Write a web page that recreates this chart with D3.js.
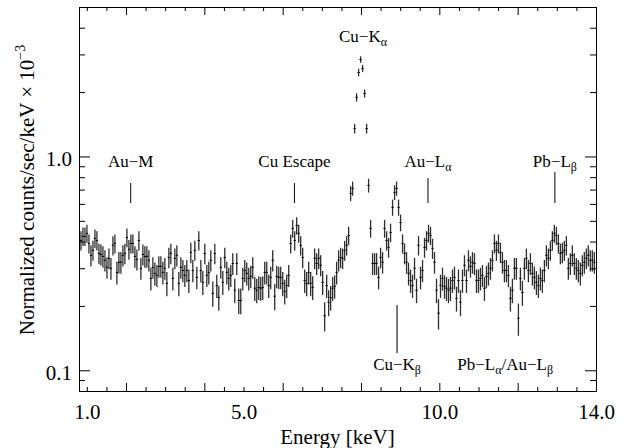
<!DOCTYPE html>
<html>
<head>
<meta charset="utf-8">
<script src="https://cdn.jsdelivr.net/npm/d3@7.9.0/dist/d3.min.js"></script>
<style>
  html, body { margin: 0; padding: 0; background: #fff; }
  svg { display: block; }
</style>
</head>
<body>
<svg id="spectrum-chart" width="628" height="448"></svg>
<script>
// bin centres (keV)
const energy = [
  0.850,0.901,0.952,1.003,1.054,1.105,1.156,1.207,1.258,1.309,
  1.360,1.411,1.462,1.513,1.564,1.615,1.666,1.717,1.768,1.819,
  1.870,1.921,1.972,2.023,2.074,2.125,2.176,2.227,2.278,2.329,
  2.380,2.431,2.482,2.533,2.584,2.635,2.686,2.737,2.788,2.839,
  2.890,2.941,2.992,3.043,3.094,3.145,3.196,3.247,3.298,3.349,
  3.400,3.451,3.502,3.553,3.604,3.655,3.706,3.757,3.808,3.859,
  3.910,3.961,4.012,4.063,4.114,4.165,4.216,4.267,4.318,4.369,
  4.420,4.471,4.522,4.573,4.624,4.675,4.726,4.777,4.828,4.879,
  4.930,4.981,5.032,5.083,5.134,5.185,5.236,5.287,5.338,5.389,
  5.440,5.491,5.542,5.593,5.644,5.695,5.746,5.797,5.848,5.899,
  5.950,6.001,6.052,6.103,6.154,6.205,6.256,6.307,6.358,6.409,
  6.460,6.511,6.562,6.613,6.664,6.715,6.766,6.817,6.868,6.919,
  6.970,7.021,7.072,7.123,7.174,7.225,7.276,7.327,7.378,7.429,
  7.480,7.531,7.582,7.633,7.684,7.735,7.786,7.837,7.888,7.939,
  7.990,8.041,8.092,8.143,8.194,8.245,8.296,8.347,8.398,8.449,
  8.500,8.551,8.602,8.653,8.704,8.755,8.806,8.857,8.908,8.959,
  9.010,9.061,9.112,9.163,9.214,9.265,9.316,9.367,9.418,9.469,
  9.520,9.571,9.622,9.673,9.724,9.775,9.826,9.877,9.928,9.979,
  10.030,10.081,10.132,10.183,10.234,10.285,10.336,10.387,10.438,10.489,
  10.540,10.591,10.642,10.693,10.744,10.795,10.846,10.897,10.948,10.999,
  11.050,11.101,11.152,11.203,11.254,11.305,11.356,11.407,11.458,11.509,
  11.560,11.611,11.662,11.713,11.764,11.815,11.866,11.917,11.968,12.019,
  12.070,12.121,12.172,12.223,12.274,12.325,12.376,12.427,12.478,12.529,
  12.580,12.631,12.682,12.733,12.784,12.835,12.886,12.937,12.988,13.039,
  13.090,13.141,13.192,13.243,13.294,13.345,13.396,13.447,13.498,13.549,
  13.600,13.651,13.702,13.753,13.804,13.855,13.906,13.957
];

// normalized counts/sec/keV x 1e-3
const rate = [
  0.405,0.423,0.423,0.437,0.392,0.345,0.364,0.414,0.405,0.352,
  0.348,0.341,0.327,0.303,0.334,0.300,0.384,0.392,0.287,0.320,
  0.320,0.345,0.352,0.418,0.368,0.392,0.392,0.341,0.330,0.405,
  0.300,0.348,0.341,0.341,0.327,0.269,0.303,0.284,0.278,0.306,
  0.306,0.287,0.300,0.255,0.337,0.352,0.269,0.334,0.345,0.255,
  0.303,0.293,0.278,0.293,0.263,0.356,0.293,0.364,0.272,0.405,
  0.293,0.258,0.352,0.278,0.287,0.327,0.229,0.352,0.249,0.219,
  0.303,0.258,0.337,0.287,0.269,0.278,0.316,0.237,0.316,0.212,
  0.212,0.269,0.293,0.284,0.269,0.275,0.303,0.242,0.237,0.244,
  0.242,0.244,0.287,0.287,0.249,0.272,0.327,0.222,0.275,0.272,
  0.272,0.255,0.234,0.249,0.278,0.392,0.461,0.405,0.476,0.437,
  0.384,0.337,0.263,0.255,0.287,0.255,0.244,0.334,0.316,0.334,
  0.310,0.258,0.180,0.249,0.208,0.219,0.242,0.247,0.287,0.327,
  0.337,0.334,0.364,0.384,0.427,0.672,0.709,1.35,1.89,2.47,
  2.84,2.58,1.97,1.35,0.732,0.461,0.316,0.316,0.316,0.272,
  0.337,0.320,0.461,0.405,0.376,0.441,0.578,0.679,0.709,0.578,
  0.491,0.392,0.352,0.320,0.284,0.263,0.249,0.300,0.237,0.384,
  0.272,0.293,0.376,0.405,0.437,0.427,0.372,0.320,0.237,0.185,
  0.249,0.269,0.247,0.242,0.237,0.242,0.263,0.272,0.217,0.263,
  0.208,0.263,0.310,0.263,0.327,0.306,0.320,0.316,0.263,0.263,
  0.269,0.278,0.242,0.275,0.284,0.300,0.327,0.392,0.364,0.392,
  0.356,0.320,0.293,0.293,0.278,0.217,0.237,0.300,0.300,0.175,
  0.269,0.231,0.300,0.334,0.293,0.316,0.284,0.272,0.258,0.249,
  0.269,0.263,0.293,0.345,0.334,0.364,0.405,0.437,0.427,0.392,
  0.352,0.356,0.364,0.384,0.300,0.316,0.345,0.316,0.300,0.293,
  0.284,0.310,0.320,0.334,0.345,0.327,0.327,0.320
];

// 1-sigma errors
const rateErr = [
  .042,.042,.042,.042,.040,.039,.039,.042,.042,.039,
  .039,.039,.037,.035,.037,.035,.040,.040,.035,.037,
  .037,.039,.039,.042,.039,.040,.040,.039,.037,.042,
  .035,.039,.039,.039,.037,.033,.035,.035,.033,.035,
  .035,.035,.035,.033,.037,.039,.033,.037,.039,.033,
  .035,.035,.033,.035,.033,.039,.035,.039,.033,.042,
  .035,.033,.039,.033,.035,.037,.031,.039,.031,.029,
  .035,.033,.037,.035,.033,.033,.037,.031,.037,.029,
  .029,.033,.035,.035,.033,.033,.035,.031,.031,.031,
  .031,.031,.035,.035,.031,.033,.037,.031,.033,.033,
  .033,.033,.031,.031,.033,.040,.044,.042,.044,.042,
  .040,.037,.033,.033,.035,.033,.031,.037,.037,.037,
  .035,.033,.028,.031,.029,.029,.031,.031,.035,.037,
  .037,.037,.039,.040,.042,.054,.054,.070,.085,.100,
  .100,.100,.085,.070,.054,.044,.037,.037,.037,.033,
  .037,.037,.044,.042,.040,.044,.050,.054,.054,.050,
  .044,.040,.039,.037,.035,.033,.031,.035,.031,.040,
  .033,.035,.040,.042,.042,.042,.040,.037,.031,.030,
  .031,.033,.031,.031,.031,.031,.033,.033,.029,.033,
  .029,.033,.035,.033,.037,.035,.037,.037,.033,.033,
  .033,.033,.031,.033,.035,.035,.037,.040,.039,.040,
  .039,.037,.035,.035,.033,.029,.031,.035,.035,.030,
  .033,.031,.035,.037,.035,.037,.035,.033,.033,.031,
  .033,.033,.035,.039,.037,.039,.042,.042,.042,.040,
  .039,.039,.039,.040,.035,.037,.039,.037,.035,.035,
  .035,.035,.037,.037,.039,.037,.037,.037
];

const xLabelTicks = [1, 5, 10, 14];
const xMajorTicks = [2, 4, 6, 8, 10, 12, 14];
const xMinorTicks = [1, 1.5, 2.5, 3, 3.5, 4.5, 5, 5.5, 6.5, 7, 7.5, 8.5, 9, 9.5, 10.5, 11, 11.5, 12.5, 13, 13.5];
const yMajorTicks = [0.1, 1.0];
const yMinorTicks = [0.09, 0.2, 0.3, 0.4, 0.5, 0.6, 0.7, 0.8, 0.9, 2, 3, 4];

// line identifications
const upperLines = ["Au-M", "Cu Escape", "Au-La", "Pb-Lb"];
const upperEnergy = [2.12, 6.30, 9.71, 12.95];
const lowerLines = ["Cu-Kb", "Pb-La/Au-Lb"];
const lowerEnergy = [8.92, 11.68];

const svgWidth = 628;
const svgHeight = 448;
const margin = { top: 7, right: 32, bottom: 57, left: 79 };
const width = svgWidth - margin.left - margin.right;
const height = svgHeight - margin.top - margin.bottom;
const font = "'Liberation Serif', 'Times New Roman', serif";

const svg = d3.select("#spectrum-chart");
const g = svg.append("g").attr("transform", `translate(${margin.left}, ${margin.top})`);

const xScale = d3.scaleLinear().domain([0.8, 14.0]).range([0, width]);
const yScale = d3.scaleLog().domain([0.08, 5.0]).range([height, 0]);

// error bars
const points = energy.map((e, i) => ({ e: e, v: rate[i], err: rateErr[i] }));
const bars = g.append("g");
bars.selectAll("line.err")
  .data(points)
  .join("line")
  .attr("class", "err")
  .attr("x1", d => xScale(d.e))
  .attr("x2", d => xScale(d.e))
  .attr("y1", d => yScale(d.v - d.err))
  .attr("y2", d => yScale(d.v + d.err))
  .attr("stroke", "#2e2e2e")
  .attr("stroke-width", 1.3);
bars.selectAll("line.bin")
  .data(points)
  .join("line")
  .attr("class", "bin")
  .attr("x1", d => xScale(d.e - 0.03))
  .attr("x2", d => xScale(d.e + 0.03))
  .attr("y1", d => yScale(d.v))
  .attr("y2", d => yScale(d.v))
  .attr("stroke", "#000")
  .attr("stroke-width", 1);

// axes with inward ticks, mirrored
function tickAxis(axisFn, scale, values, size) {
  return axisFn(scale).tickValues(values).tickSize(size).tickFormat("");
}
const axisGroups = [
  [d3.axisBottom, `translate(0, ${height})`, xMajorTicks, -8, xScale],
  [d3.axisBottom, `translate(0, ${height})`, xMinorTicks, -4, xScale],
  [d3.axisTop, "translate(0, 0)", xMajorTicks, -8, xScale],
  [d3.axisTop, "translate(0, 0)", xMinorTicks, -4, xScale],
  [d3.axisLeft, "translate(0, 0)", yMajorTicks, -11, yScale],
  [d3.axisLeft, "translate(0, 0)", yMinorTicks, -6, yScale],
  [d3.axisRight, `translate(${width}, 0)`, yMajorTicks, -11, yScale],
  [d3.axisRight, `translate(${width}, 0)`, yMinorTicks, -6, yScale]
];
axisGroups.forEach(([fn, tr, vals, size, sc]) => {
  const ax = g.append("g").attr("transform", tr).call(tickAxis(fn, sc, vals, size));
  ax.select(".domain").remove();
  ax.selectAll("line").attr("stroke", "#000");
});

// tick labels
const xLab = g.append("g")
  .attr("transform", `translate(0, ${height})`)
  .call(d3.axisBottom(xScale).tickValues(xLabelTicks).tickSize(0).tickPadding(13).tickFormat(d3.format(".1f")));
xLab.select(".domain").remove();
xLab.selectAll("text").style("font-family", font).style("font-size", "21px").attr("fill", "#000");

const yLab = g.append("g")
  .call(d3.axisLeft(yScale).tickValues(yMajorTicks).tickSize(0).tickPadding(7).tickFormat(d3.format(".1f")));
yLab.select(".domain").remove();
yLab.selectAll("text").style("font-family", font).style("font-size", "21px").attr("fill", "#000").attr("dy", "0.42em");

// frame
g.append("rect")
  .attr("x", 0.5).attr("y", 0.5)
  .attr("width", width).attr("height", height)
  .attr("fill", "none").attr("stroke", "#000").attr("stroke-width", 1);

// axis titles
svg.append("text")
  .attr("x", margin.left + width / 2)
  .attr("y", 444)
  .attr("text-anchor", "middle")
  .style("font-family", font)
  .style("font-size", "21px")
  .text("Energy [keV]");

const yTitle = svg.append("text")
  .attr("transform", "rotate(-90)")
  .attr("x", -190)
  .attr("y", 34)
  .attr("text-anchor", "middle")
  .style("font-family", font)
  .style("font-size", "21px");
yTitle.append("tspan").text("Normalized counts/sec/keV \u00d7 10");
yTitle.append("tspan").attr("dy", -9).style("font-size", "14px").text("\u22123");

// labels with greek subscripts: "-" -> minus, trailing a/b -> alpha/beta subscript
function writeLabel(sel, label) {
  const parts = label.split("/");
  parts.forEach((p, i) => {
    let main = p.replace("-", "\u2212");
    let sub = null;
    if (/L[ab]$|K[ab]$/.test(p)) {
      sub = p.slice(-1) === "a" ? "\u03b1" : "\u03b2";
      main = main.slice(0, -1);
    }
    sel.append("tspan").attr("dy", i > 0 ? -4 : 0).text((i > 0 ? "/" : "") + main);
    if (sub) sel.append("tspan").attr("dy", 4).style("font-size", "12px").text(sub);
  });
}

const upper = g.append("g");
upperLines.forEach((name, i) => {
  const x = xScale(upperEnergy[i]);
  const top = i === 3 ? 165 : (i === 2 ? 171 : 176);
  upper.append("line")
    .attr("x1", x).attr("x2", x)
    .attr("y1", top).attr("y2", 196)
    .attr("stroke", "#000").attr("stroke-width", 1);
  const t = upper.append("text")
    .attr("x", x).attr("y", 160)
    .attr("text-anchor", "middle")
    .style("font-family", font)
    .style("font-size", "17px");
  writeLabel(t, name);
});

const lower = g.append("g");
lowerLines.forEach((name, i) => {
  const x = xScale(lowerEnergy[i]);
  if (i === 0) {
    lower.append("line")
      .attr("x1", x).attr("x2", x)
      .attr("y1", 298).attr("y2", 346)
      .attr("stroke", "#333").attr("stroke-width", 1.3);
  }
  const t = lower.append("text")
    .attr("x", x).attr("y", 363)
    .attr("text-anchor", "middle")
    .style("font-family", font)
    .style("font-size", "17px");
  writeLabel(t, name);
});

const peak = g.append("text")
  .attr("x", xScale(8.05)).attr("y", 35)
  .attr("text-anchor", "middle")
  .style("font-family", font)
  .style("font-size", "17px");
writeLabel(peak, "Cu-Ka");
</script>
</body>
</html>
